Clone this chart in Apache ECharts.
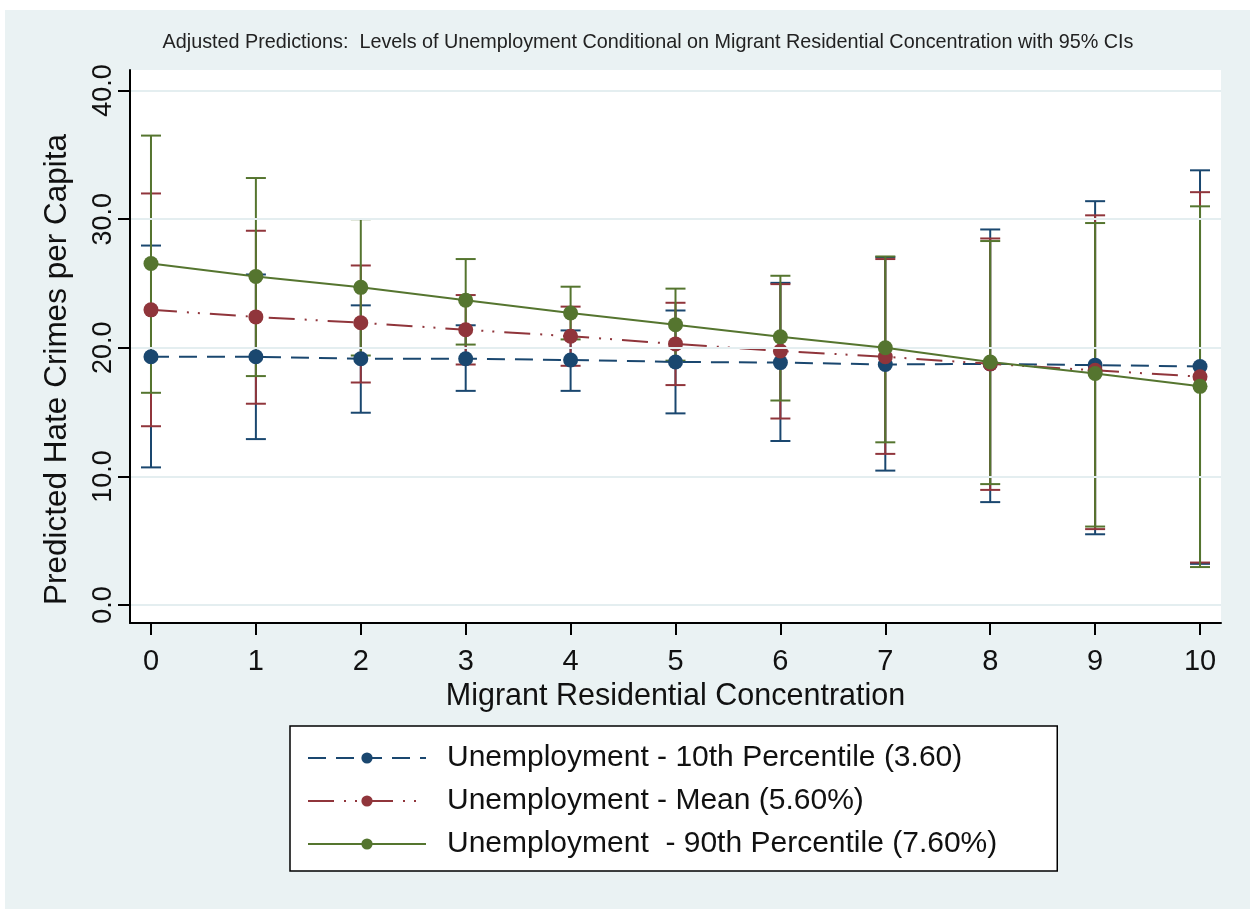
<!DOCTYPE html>
<html lang="en">
<head>
    <meta charset="UTF-8">
    <title>Adjusted Predictions</title>
    <script src="https://cdn.jsdelivr.net/npm/echarts@6/dist/echarts.min.js"></script>
    <style>
        html, body { margin: 0; padding: 0; background: #fff; }
    </style>
</head>
<body>

<div id="main" style="width: 1250px;height:909px;"></div>
<script>
    // x positions (migrant residential concentration)
    var xVals = [0, 1, 2, 3, 4, 5, 6, 7, 8, 9, 10];
    var xTicks = [0, 1, 2, 3, 4, 5, 6, 7, 8, 9, 10];
    var yTicks = [0, 10, 20, 30, 40];

    // unemployment 10th percentile
    var p10 = [19.3, 19.3, 19.15, 19.15, 19.05, 18.9, 18.85, 18.7, 18.75, 18.65, 18.55];
    var p10Lo = [10.7, 12.9, 14.95, 16.65, 16.65, 14.9, 12.75, 10.45, 8.0, 5.5, 3.2];
    var p10Hi = [27.95, 25.7, 23.3, 21.75, 21.35, 22.9, 25.05, 27.05, 29.2, 31.4, 33.8];

    // unemployment mean
    var mean = [22.95, 22.4, 21.95, 21.4, 20.9, 20.3, 19.75, 19.3, 18.75, 18.25, 17.75];
    var meanLo = [13.9, 15.65, 17.3, 18.7, 18.6, 17.1, 14.5, 11.75, 8.95, 5.9, 3.3];
    var meanHi = [32.0, 29.1, 26.4, 24.1, 23.2, 23.5, 24.95, 26.9, 28.5, 30.3, 32.1];

    // unemployment 90th percentile
    var p90 = [26.55, 25.55, 24.7, 23.7, 22.7, 21.8, 20.85, 20.0, 18.9, 18.0, 17.0];
    var p90Lo = [16.5, 17.8, 19.4, 20.25, 20.65, 19.0, 15.9, 12.65, 9.4, 6.1, 2.95];
    var p90Hi = [36.5, 33.2, 30.0, 26.9, 24.75, 24.6, 25.6, 27.1, 28.3, 29.7, 31.0];

    var names = [
        'Unemployment - 10th Percentile (3.60)',
        'Unemployment - Mean (5.60%)',
        'Unemployment  - 90th Percentile (7.60%)'
    ];
    var colors = ['#1a476f', '#90353b', '#55752f'];

    var myChart = echarts.init(document.getElementById('main'));

    function pairs(ys) {
        return xVals.map(function (x, i) { return [x, ys[i]]; });
    }

    function ciData(lo, hi) {
        return xVals.map(function (x, i) { return [x, lo[i], hi[i]]; });
    }

    function ciSeries(name, lo, hi, color) {
        return {
            name: name + ' CI',
            type: 'custom',
            z: 2,
            silent: true,
            data: ciData(lo, hi),
            renderItem: function (params, api) {
                var top = api.coord([api.value(0), api.value(2)]);
                var bot = api.coord([api.value(0), api.value(1)]);
                var w = 10;
                var style = {stroke: color, lineWidth: 2};
                return {
                    type: 'group',
                    children: [
                        {type: 'line', shape: {x1: top[0], y1: top[1], x2: bot[0], y2: bot[1]}, style: style},
                        {type: 'line', shape: {x1: top[0] - w, y1: top[1], x2: top[0] + w, y2: top[1]}, style: style},
                        {type: 'line', shape: {x1: bot[0] - w, y1: bot[1], x2: bot[0] + w, y2: bot[1]}, style: style}
                    ]
                };
            }
        };
    }

    function lineSeries(name, ys, color, dash, z) {
        return {
            name: name,
            type: 'line',
            z: z,
            data: pairs(ys),
            symbol: 'circle',
            symbolSize: 15,
            itemStyle: {color: color},
            lineStyle: {color: color, width: 2, type: dash}
        };
    }

    myChart.setOption({
        animation: false,
        backgroundColor: '#fff',
        textStyle: {fontFamily: 'Liberation Sans, Arial, sans-serif'},
        graphic: [{
            type: 'rect',
            z: -10,
            shape: {x: 5, y: 10, width: 1245, height: 899},
            style: {fill: '#eaf2f3'}
        }],
        title: {
            text: 'Adjusted Predictions:  Levels of Unemployment Conditional on Migrant Residential Concentration with 95% CIs',
            left: 643,
            top: 28,
            textAlign: 'center',
            textStyle: {fontSize: 19.8, fontWeight: 'normal', color: '#222'}
        },
        legend: {
            data: names,
            orient: 'vertical',
            left: 290,
            top: 726,
            itemWidth: 118,
            itemHeight: 14,
            itemGap: 13,
            padding: [17, 60, 12, 17],
            backgroundColor: '#fff',
            borderColor: '#000',
            borderWidth: 1.5,
            borderRadius: 0,
            textStyle: {fontSize: 30, color: '#111', padding: [0, 0, 0, 16]}
        },
        grid: {
            left: 130,
            top: 70,
            width: 1091,
            height: 553,
            show: true,
            backgroundColor: '#fff',
            borderWidth: 0
        },
        xAxis: {
            type: 'value',
            z: 6,
            min: -0.2,
            max: 10.2,
            name: 'Migrant Residential Concentration',
            nameLocation: 'middle',
            nameGap: 56,
            nameTextStyle: {fontSize: 30.5, color: '#111'},
            axisLine: {show: true, onZero: false, lineStyle: {color: '#000', width: 2}},
            axisTick: {show: true, length: 12, customValues: xTicks, lineStyle: {color: '#000', width: 2}},
            axisLabel: {customValues: xTicks, fontSize: 29, color: '#111', margin: 24},
            splitLine: {show: false}
        },
        yAxis: {
            type: 'value',
            z: 6,
            min: -1.4,
            max: 41.6,
            name: 'Predicted Hate Crimes per Capita',
            nameLocation: 'middle',
            nameGap: 57,
            nameTextStyle: {fontSize: 31.5, color: '#111', padding: [0, 46, 0, 0]},
            axisLine: {show: true, onZero: false, lineStyle: {color: '#000', width: 2}},
            axisTick: {show: true, length: 12, customValues: yTicks, lineStyle: {color: '#000', width: 2}},
            axisLabel: {
                customValues: yTicks,
                rotate: 90,
                fontSize: 27,
                color: '#111',
                margin: 13,
                formatter: function (v) { return v.toFixed(1); }
            },
            splitLine: {show: false}
        },
        series: [
            {
                name: 'grid lines',
                type: 'line',
                data: [],
                z: 1,
                markLine: {
                    silent: true,
                    symbol: 'none',
                    label: {show: false},
                    lineStyle: {color: '#e4eef0', width: 2, type: 'solid'},
                    data: yTicks.map(function (v) { return {yAxis: v}; })
                }
            },
            ciSeries(names[0], p10Lo, p10Hi, colors[0]),
            ciSeries(names[1], meanLo, meanHi, colors[1]),
            ciSeries(names[2], p90Lo, p90Hi, colors[2]),
            lineSeries(names[0], p10, colors[0], [18, 10], 3),
            lineSeries(names[1], mean, colors[1], [26, 10, 2, 9, 2, 10], 4),
            lineSeries(names[2], p90, colors[2], 'solid', 5)
        ]
    });
</script>
</body>
</html>
